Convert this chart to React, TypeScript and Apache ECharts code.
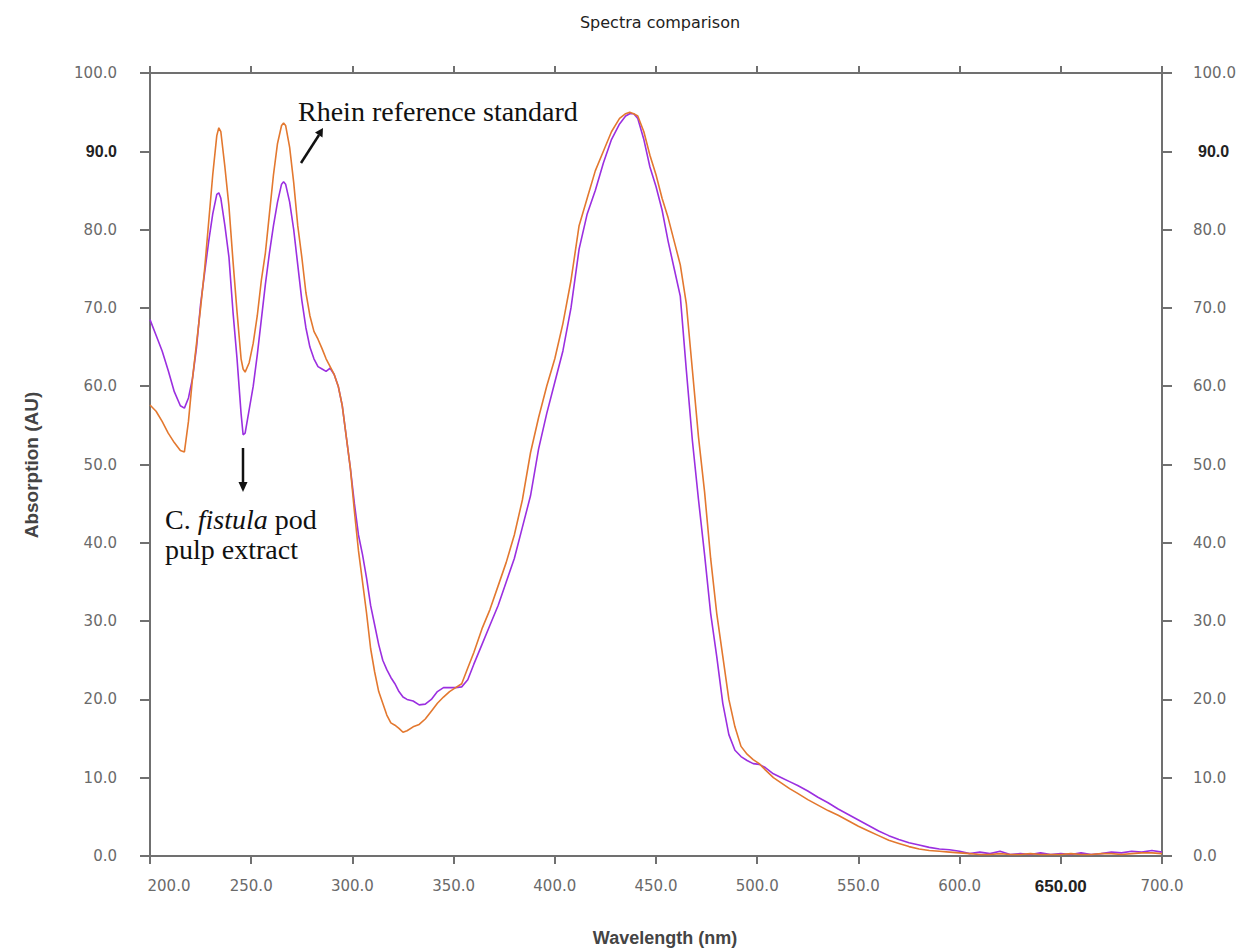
import React, { useEffect, useRef } from "react";
import * as echarts from "echarts";

// Wavelength grid (nm)
const wavelengths = [
  200, 203, 206, 209, 212, 215, 217, 219, 221, 223, 225, 227, 229, 231, 233, 234, 235, 237, 239, 241,
  243, 245, 246, 247, 249, 251, 253, 255, 257, 259, 261, 263, 265, 266, 267, 269, 271, 273, 275, 277,
  279, 281, 283, 285, 287, 289, 291, 293, 295, 297, 299, 301, 303, 305, 307, 309, 311, 313, 315, 317,
  319, 321, 323, 325, 327, 330, 333, 336, 339, 342, 345, 348, 351, 354, 357, 360, 364, 368, 372, 376,
  380, 384, 388, 392, 396, 400, 404, 408, 412, 416, 420, 424, 428, 432, 435, 437, 439, 441, 444, 447,
  450, 453, 456, 459, 462, 465, 468, 471, 474, 477, 480, 483, 486, 489, 492, 495, 498, 501, 504, 508,
  512, 516, 520, 525, 530, 535, 540, 545, 550, 555, 560, 565, 570, 575, 580, 585, 590, 595, 600, 605,
  610, 615, 620, 625, 630, 635, 640, 645, 650, 655, 660, 665, 670, 675, 680, 685, 690, 695, 700,
];

// C. fistula pod pulp extract (purple)
const extractValues = [
  68.5, 66.5, 64.5, 62.0, 59.3, 57.5, 57.2, 58.5, 61.0, 65.0, 70.5, 74.5, 78.5, 82.0, 84.5, 84.7, 84.0, 80.5, 76.5, 69.5,
  63.5, 56.5, 53.8, 54.0, 57.0, 60.0, 64.0, 68.5, 73.0, 77.0, 80.5, 83.5, 85.8, 86.1, 85.8, 83.5, 80.0, 75.5, 71.0, 67.5,
  65.0, 63.5, 62.5, 62.2, 61.9, 62.3, 61.5, 60.0, 57.5, 53.5, 49.5, 45.0, 41.0, 38.5, 35.5, 32.0, 29.5, 27.0, 25.0, 23.8,
  22.8, 22.0, 21.0, 20.3, 20.0, 19.8, 19.3, 19.4, 20.0, 21.0, 21.5, 21.5, 21.5, 21.6, 22.5, 24.5, 27.0, 29.5, 32.0, 35.0,
  38.0, 42.0, 46.0, 52.0, 56.5, 60.5, 64.5, 70.0, 77.5, 82.0, 85.0, 88.5, 91.5, 93.5, 94.5, 94.8, 94.8, 94.2, 91.5, 88.0,
  85.5, 82.5, 78.5, 75.0, 71.5, 62.0, 53.0, 45.5, 38.5, 31.0, 25.5, 19.5, 15.5, 13.5, 12.7, 12.2, 11.8, 11.7, 11.3, 10.5,
  10.0, 9.5, 9.0, 8.3, 7.5, 6.8, 6.0, 5.3, 4.6, 3.9, 3.2, 2.6, 2.1, 1.7, 1.4, 1.1, 0.9, 0.8, 0.6, 0.3,
  0.5, 0.3, 0.6, 0.2, 0.3, 0.2, 0.4, 0.2, 0.3, 0.2, 0.4, 0.2, 0.3, 0.5, 0.4, 0.6, 0.5, 0.7, 0.5,
];

// Rhein reference standard (orange)
const rheinValues = [
  57.6, 56.8, 55.5, 54.0, 52.8, 51.8, 51.6, 55.5, 61.0, 65.5, 70.0, 75.0, 81.0, 87.0, 92.0, 93.0, 92.5, 88.0, 83.0, 76.0,
  69.5, 63.5, 62.2, 61.8, 63.0, 65.5, 69.0, 73.5, 77.0, 82.0, 87.0, 91.0, 93.3, 93.6, 93.3, 90.5, 86.0, 80.5, 76.5, 72.0,
  69.0, 67.0, 66.0, 64.8, 63.5, 62.5, 61.5, 60.0, 57.5, 53.5, 49.5, 44.0, 39.0, 35.0, 31.0, 26.5, 23.5, 21.0, 19.5, 18.0,
  17.0, 16.7, 16.3, 15.8, 16.0, 16.5, 16.8, 17.5, 18.5, 19.5, 20.3, 21.0, 21.5, 22.0, 24.0, 26.0, 29.0, 31.5, 34.5, 37.5,
  41.0, 45.5, 51.5, 56.0, 60.0, 63.5, 68.0, 73.5, 80.5, 84.0, 87.5, 90.0, 92.5, 94.2, 94.8, 95.0, 94.8, 94.5, 92.5, 89.5,
  87.0, 84.0, 81.5, 78.5, 75.5, 70.5, 62.0, 53.5, 46.5, 38.0, 31.0, 25.5, 20.0, 16.5, 14.0, 13.0, 12.3, 11.8, 11.0, 10.0,
  9.3, 8.6, 8.0, 7.2, 6.5, 5.8, 5.2, 4.5, 3.8, 3.2, 2.6, 2.0, 1.6, 1.2, 0.9, 0.7, 0.6, 0.5, 0.4, 0.3,
  0.2, 0.2, 0.3, 0.2, 0.2, 0.3, 0.2, 0.2, 0.2, 0.3, 0.2, 0.2, 0.3, 0.3, 0.2, 0.3, 0.4, 0.4, 0.3,
];

const xTicks = { min: 200, max: 700, interval: 50 };
const yTicks = { min: 0, max: 100, interval: 10 };

const titleText = "Spectra comparison";
const xAxisTitle = "Wavelength (nm)";
const yAxisTitle = "Absorption (AU)";
const rheinLabel = "Rhein reference standard";

const AXIS_COLOR = "#707070";
const LABEL_COLOR = "#6a6a6a";
const LABEL_FONT = "DejaVu Sans";

export default function App() {
  const ref = useRef<HTMLDivElement>(null);

  useEffect(() => {
    if (!ref.current) return;
    const chart = echarts.init(ref.current, undefined, { renderer: "svg" });

    const extractData = wavelengths.map((w, i) => [w, extractValues[i]]);
    const rheinData = wavelengths.map((w, i) => [w, rheinValues[i]]);

    const labelBase = {
      fontFamily: LABEL_FONT,
      fontSize: 15,
      color: LABEL_COLOR,
    };
    const boldRich = {
      fontFamily: "Liberation Sans",
      fontWeight: "bold" as const,
      fontSize: 16,
      color: "#222",
    };

    const axisLine = { show: true, onZero: false, lineStyle: { color: AXIS_COLOR, width: 2 } };

    const option: any = {
      animation: false,
      backgroundColor: "#ffffff",
      grid: { left: 150, right: 78, top: 73, bottom: 93, containLabel: false },
      xAxis: [
        {
          type: "value",
          position: "bottom",
          ...xTicks,
          axisLine,
          axisTick: { show: true, inside: false, length: 8, lineStyle: { color: AXIS_COLOR, width: 2 } },
          splitLine: { show: false },
          axisLabel: {
            ...labelBase,
            margin: 22,
            formatter: (v: number) => {
              if (v === 650) return "{b|650.00}";
              if (v === 200) return "{f|200.0}";
              return v.toFixed(1);
            },
            rich: {
              b: { ...boldRich, fontSize: 17 },
              f: { ...labelBase, padding: [0, 0, 0, 38] },
            },
          },
        },
        {
          type: "value",
          position: "top",
          ...xTicks,
          axisLine,
          axisTick: { show: true, inside: false, length: 7, lineStyle: { color: AXIS_COLOR, width: 2 } },
          splitLine: { show: false },
          axisLabel: { show: false },
        },
      ],
      yAxis: [
        {
          type: "value",
          position: "left",
          ...yTicks,
          axisLine,
          axisTick: { show: true, inside: false, length: 10, lineStyle: { color: AXIS_COLOR, width: 2 } },
          splitLine: { show: false },
          axisLabel: {
            ...labelBase,
            margin: 33,
            formatter: (v: number) => (v === 90 ? "{b|90.0}" : v.toFixed(1)),
            rich: { b: boldRich },
          },
        },
        {
          type: "value",
          position: "right",
          ...yTicks,
          axisLine,
          axisTick: { show: true, inside: false, length: 10, lineStyle: { color: AXIS_COLOR, width: 2 } },
          splitLine: { show: false },
          axisLabel: {
            ...labelBase,
            margin: 31,
            formatter: (v: number) => (v === 90 ? "{b|90.0}" : v.toFixed(1)),
            rich: { b: { ...boldRich, padding: [0, 0, 0, 5] } },
          },
        },
      ],
      series: [
        {
          name: "C. fistula pod pulp extract",
          type: "line",
          xAxisIndex: 0,
          yAxisIndex: 0,
          data: extractData,
          showSymbol: false,
          lineStyle: { color: "#9b2fe0", width: 1.6 },
          z: 2,
        },
        {
          name: "Rhein reference standard",
          type: "line",
          xAxisIndex: 0,
          yAxisIndex: 0,
          data: rheinData,
          showSymbol: false,
          lineStyle: { color: "#e3782f", width: 1.6 },
          z: 3,
        },
      ],
      graphic: [
        {
          type: "text",
          x: 660,
          y: 22,
          style: {
            text: titleText,
            font: "16px 'DejaVu Sans'",
            fill: "#222",
            align: "center",
            verticalAlign: "middle",
          },
        },
        {
          type: "text",
          x: 665,
          y: 938,
          style: {
            text: xAxisTitle,
            font: "bold 18px 'Liberation Sans'",
            fill: "#444",
            align: "center",
            verticalAlign: "middle",
          },
        },
        {
          type: "text",
          x: 31,
          y: 465,
          rotation: Math.PI / 2,
          style: {
            text: yAxisTitle,
            font: "bold 19px 'Liberation Sans'",
            fill: "#444",
            align: "center",
            verticalAlign: "middle",
          },
        },
        {
          type: "text",
          x: 298,
          y: 111,
          style: {
            text: rheinLabel,
            font: "28px 'Liberation Serif'",
            fill: "#111",
            align: "left",
            verticalAlign: "middle",
          },
        },
        {
          type: "text",
          x: 165,
          y: 519,
          style: {
            text: "{n|C. }{i|fistula}{n| pod}",
            align: "left",
            verticalAlign: "middle",
            rich: {
              n: { fontFamily: "Liberation Serif", fontSize: 28, fill: "#111" },
              i: { fontFamily: "Liberation Serif", fontSize: 28, fontStyle: "italic", fill: "#111" },
            },
          },
        },
        {
          type: "text",
          x: 165,
          y: 549,
          style: {
            text: "pulp extract",
            font: "28px 'Liberation Serif'",
            fill: "#111",
            align: "left",
            verticalAlign: "middle",
          },
        },
        {
          type: "line",
          shape: { x1: 301, y1: 163, x2: 319, y2: 135 },
          style: { stroke: "#111", lineWidth: 2.5 },
        },
        {
          type: "polygon",
          shape: { points: [[323, 128], [322.5, 137.5], [315, 132.5]] },
          style: { fill: "#111" },
        },
        {
          type: "line",
          shape: { x1: 243, y1: 448, x2: 243, y2: 484 },
          style: { stroke: "#111", lineWidth: 2.5 },
        },
        {
          type: "polygon",
          shape: { points: [[243, 492], [238.5, 482], [247.5, 482]] },
          style: { fill: "#111" },
        },
      ],
    };

    chart.setOption(option);
    return () => chart.dispose();
  }, []);

  return (
    <div
      ref={ref}
      style={{ position: "absolute", left: 0, top: 0, width: 1240, height: 949 }}
    />
  );
}
